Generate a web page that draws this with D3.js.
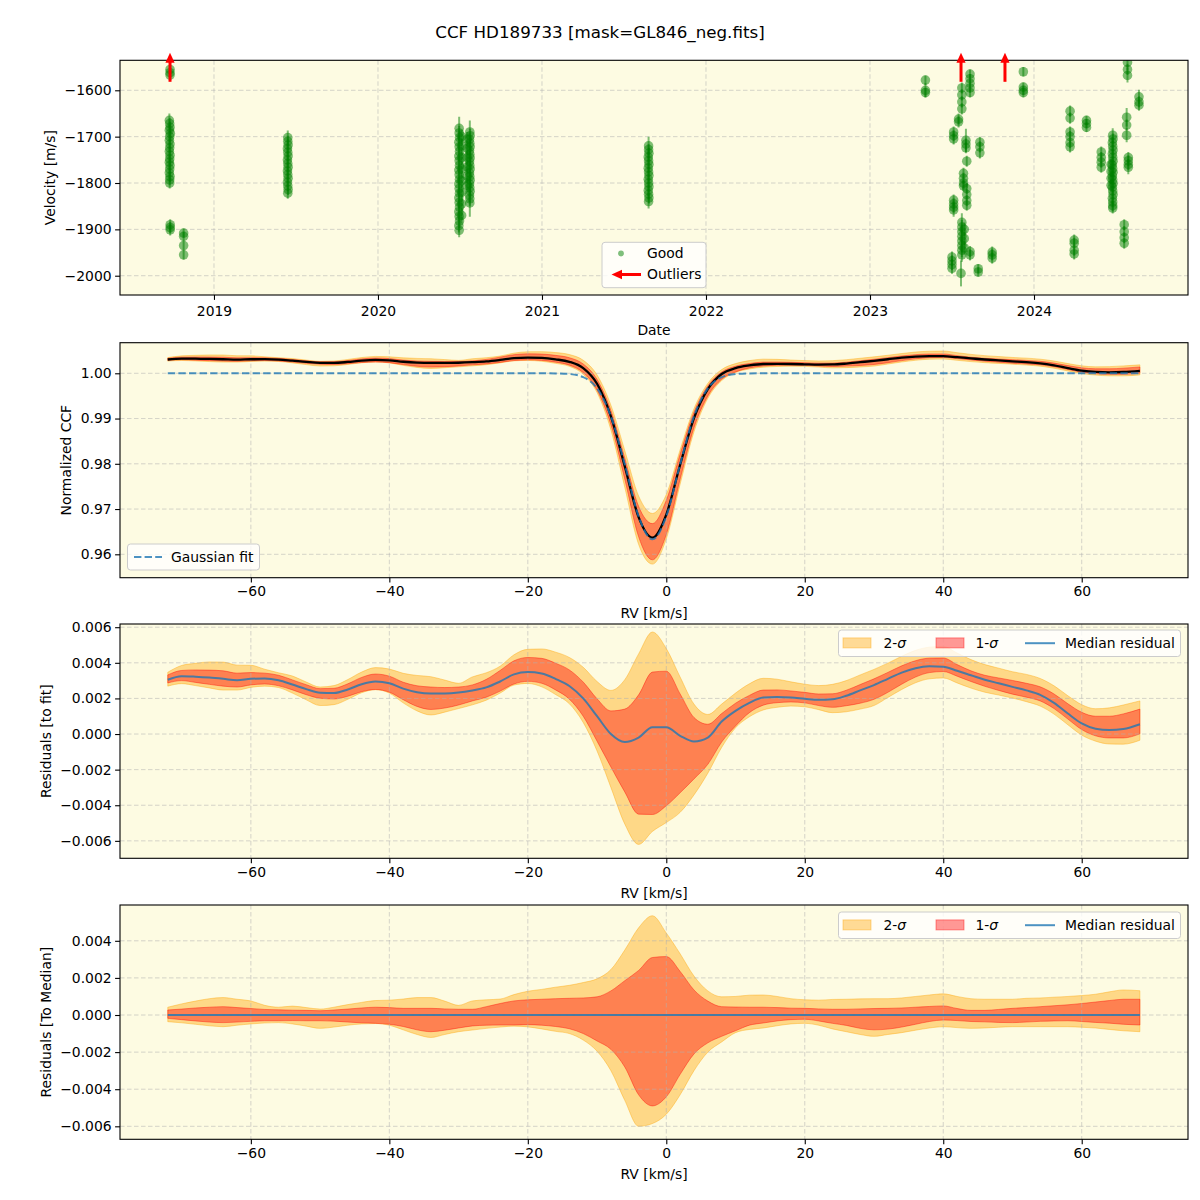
<!DOCTYPE html>
<html><head><meta charset="utf-8">
<script src="https://cdn.jsdelivr.net/npm/d3@7"></script>
<style>body{margin:0;background:#fff}</style>
</head><body>
<svg id="chart" width="1200" height="1200"></svg>
<script>
// ---------------- DATA ----------------
const chartTitle = "CCF HD189733 [mask=GL846_neg.fits]";

// RV grid [km/s]
const rv = [-72,-70,-68,-66,-64,-62,-60,-58,-56,-54,
  -52,-50,-48,-46,-44,-42,-40,-38,-36,-34,
  -32,-30,-28,-26,-24,-22,-20,-18,-16,-14,
  -12,-10,-8,-6,-4,-2,0,2,4,6,
  8,10,12,14,16,18,20,22,24,26,
  28,30,32,34,36,38,40,42,44,46,
  48,50,52,54,56,58,60,62,64,66,
  68.4];

// Gaussian fit to the CCF
const gaussFit = [1,1,1,1,1,1,1,1,1,1,
  1,1,1,1,1,1,1,1,1,1,
  1,1,1,1,1,1,1,1,0.99998,0.99984,
  0.99914,0.99668,0.9905,0.9799,0.9684,0.9633,0.9684,0.9799,0.9905,0.99668,
  0.99914,0.99984,0.99998,1,1,1,1,1,1,1,
  1,1,1,1,1,1,1,1,1,1,
  1,1,1,1,1,1,1,1,1,1,
  1];

// Median residual to the fit (x1e-3)
const medianResid = [3.05,3.25,3.22,3.17,3.10,3.02,3.10,3.12,3.02,2.78,
  2.52,2.32,2.30,2.50,2.80,2.95,2.85,2.55,2.35,2.28,
  2.28,2.33,2.45,2.62,2.95,3.35,3.48,3.40,3.10,2.70,
  2.00,1.00,0.00,-0.45,-0.20,0.38,0.38,-0.10,-0.42,-0.20,
  0.70,1.30,1.75,2.05,2.08,2.05,1.98,1.92,1.95,2.15,
  2.45,2.75,3.10,3.45,3.70,3.80,3.78,3.55,3.30,3.05,
  2.85,2.65,2.45,2.20,1.75,1.15,0.60,0.30,0.22,0.28,
  0.55];

// Spread of residuals around the median (x1e-3)
const sig2Hi = [0.42,0.60,0.75,0.88,0.94,0.85,0.76,0.52,0.42,0.48,
  0.40,0.32,0.42,0.56,0.68,0.78,0.80,0.86,0.94,0.94,
  0.75,0.52,0.76,0.82,0.86,1.10,1.28,1.38,1.50,1.60,
  1.75,1.95,2.45,3.50,4.70,5.35,4.42,3.30,2.10,1.30,
  0.98,1.00,1.07,1.08,1.00,0.88,0.82,0.80,0.84,0.85,
  0.87,0.88,0.88,0.92,1.00,1.08,1.14,1.00,0.88,0.85,
  0.85,0.85,0.90,0.92,0.96,1.00,1.05,1.12,1.25,1.35,
  1.31];
const sig1Hi = [0.27,0.32,0.38,0.42,0.45,0.40,0.35,0.30,0.28,0.26,
  0.25,0.23,0.27,0.32,0.38,0.42,0.40,0.36,0.36,0.36,
  0.33,0.31,0.31,0.45,0.62,0.76,0.82,0.85,0.88,0.90,
  0.92,0.98,1.30,1.85,2.40,3.10,3.15,2.35,1.35,0.75,
  0.45,0.43,0.42,0.42,0.40,0.37,0.36,0.33,0.31,0.31,
  0.33,0.35,0.36,0.38,0.42,0.46,0.49,0.35,0.25,0.25,
  0.30,0.36,0.40,0.45,0.50,0.55,0.62,0.70,0.78,0.85,
  0.85];
const sig1Lo = [-0.18,-0.25,-0.32,-0.38,-0.41,-0.38,-0.34,-0.31,-0.31,-0.30,
  -0.31,-0.31,-0.33,-0.38,-0.42,-0.45,-0.50,-0.62,-0.80,-0.90,
  -0.82,-0.70,-0.59,-0.55,-0.54,-0.54,-0.52,-0.55,-0.62,-0.74,
  -1.00,-1.40,-1.85,-2.80,-4.30,-4.90,-4.41,-3.20,-2.10,-1.50,
  -1.15,-0.85,-0.55,-0.43,-0.32,-0.25,-0.23,-0.32,-0.45,-0.56,
  -0.72,-0.80,-0.76,-0.65,-0.50,-0.35,-0.27,-0.30,-0.35,-0.37,
  -0.40,-0.41,-0.38,-0.34,-0.32,-0.31,-0.35,-0.40,-0.44,-0.50,
  -0.54];
const sig2Lo = [-0.36,-0.42,-0.50,-0.58,-0.63,-0.55,-0.48,-0.43,-0.41,-0.48,
  -0.60,-0.72,-0.65,-0.55,-0.48,-0.46,-0.55,-0.80,-1.05,-1.21,
  -1.05,-0.90,-0.81,-0.72,-0.65,-0.60,-0.64,-0.75,-0.88,-1.00,
  -1.35,-1.95,-3.00,-4.60,-6.00,-5.85,-5.35,-4.30,-3.00,-2.00,
  -1.45,-0.95,-0.78,-0.70,-0.58,-0.48,-0.45,-0.55,-0.75,-0.90,
  -1.05,-1.15,-1.05,-0.95,-0.82,-0.70,-0.63,-0.68,-0.72,-0.70,
  -0.66,-0.63,-0.63,-0.63,-0.63,-0.63,-0.66,-0.70,-0.78,-0.85,
  -0.90];

// Velocity time series: [decimal year, velocity m/s, error m/s]
const goodObs = [
  [2018.732,-1555,10],[2018.732,-1562,10],[2018.732,-1567,10],
  [2018.728,-1665,15],[2018.730,-1672,12],[2018.732,-1680,12],[2018.728,-1686,12],[2018.734,-1693,12],
  [2018.730,-1700,12],[2018.728,-1708,12],[2018.732,-1716,12],[2018.730,-1724,12],[2018.728,-1732,12],
  [2018.732,-1740,12],[2018.730,-1748,12],[2018.728,-1755,12],[2018.732,-1762,12],[2018.730,-1770,12],
  [2018.728,-1778,12],[2018.732,-1786,12],[2018.730,-1793,12],[2018.730,-1800,12],
  [2018.733,-1890,12],[2018.733,-1896,12],[2018.733,-1901,12],
  [2018.815,-1908,10],[2018.815,-1915,10],[2018.815,-1935,10],[2018.815,-1955,10],
  [2019.450,-1702,15],[2019.450,-1710,12],[2019.452,-1718,12],[2019.448,-1726,12],[2019.450,-1734,12],
  [2019.452,-1742,12],[2019.448,-1750,12],[2019.450,-1758,12],[2019.452,-1766,12],[2019.448,-1774,12],
  [2019.450,-1782,12],[2019.452,-1790,12],[2019.448,-1798,12],[2019.450,-1806,12],[2019.452,-1814,12],
  [2019.450,-1822,12],
  [2020.495,-1682,25],[2020.495,-1692,15],[2020.497,-1702,15],[2020.493,-1712,15],[2020.495,-1722,15],
  [2020.497,-1732,15],[2020.493,-1742,15],[2020.495,-1752,15],[2020.497,-1762,15],[2020.493,-1772,15],
  [2020.495,-1782,15],[2020.497,-1792,15],[2020.493,-1802,15],[2020.495,-1812,15],[2020.497,-1822,15],
  [2020.493,-1832,15],[2020.495,-1842,15],[2020.497,-1852,15],[2020.493,-1862,15],[2020.495,-1872,15],
  [2020.497,-1882,15],[2020.493,-1892,15],[2020.495,-1902,15],
  [2020.510,-1700,15],[2020.510,-1720,15],[2020.510,-1745,15],[2020.510,-1770,15],[2020.510,-1795,15],
  [2020.510,-1820,15],[2020.510,-1845,15],[2020.510,-1870,15],
  [2020.560,-1690,25],[2020.562,-1698,15],[2020.558,-1706,15],[2020.560,-1714,15],[2020.562,-1722,15],
  [2020.558,-1730,15],[2020.560,-1738,15],[2020.562,-1746,15],[2020.558,-1754,15],[2020.560,-1762,15],
  [2020.562,-1770,15],[2020.558,-1778,15],[2020.560,-1786,15],[2020.562,-1794,15],[2020.558,-1802,15],
  [2020.560,-1810,15],[2020.562,-1818,15],[2020.558,-1826,15],[2020.560,-1834,15],[2020.560,-1843,30],
  [2020.545,-1705,15],[2020.545,-1725,15],[2020.545,-1745,15],[2020.545,-1765,15],[2020.545,-1785,15],
  [2020.545,-1805,15],
  [2021.650,-1720,20],[2021.650,-1728,12],[2021.652,-1736,12],[2021.648,-1744,12],[2021.650,-1752,12],
  [2021.652,-1760,12],[2021.648,-1768,12],[2021.650,-1776,12],[2021.652,-1784,12],[2021.648,-1792,12],
  [2021.650,-1800,12],[2021.652,-1808,12],[2021.648,-1816,12],[2021.650,-1824,12],[2021.652,-1832,12],
  [2021.650,-1840,15],
  [2023.338,-1578,10],[2023.338,-1600,15],[2023.338,-1605,10],
  [2023.610,-1565,10],[2023.610,-1575,10],[2023.610,-1585,10],[2023.610,-1595,10],[2023.610,-1605,10],
  [2023.560,-1595,12],[2023.560,-1610,12],[2023.560,-1625,12],[2023.560,-1640,12],
  [2023.540,-1662,12],[2023.540,-1668,12],
  [2023.510,-1690,12],[2023.510,-1698,12],[2023.510,-1705,12],
  [2023.585,-1708,25],[2023.585,-1716,12],[2023.585,-1724,12],
  [2023.670,-1712,12],[2023.670,-1722,12],[2023.670,-1735,12],
  [2023.590,-1753,12],
  [2023.570,-1779,12],[2023.570,-1790,12],[2023.570,-1800,12],[2023.570,-1806,12],
  [2023.590,-1812,12],[2023.590,-1825,12],[2023.590,-1838,12],[2023.590,-1848,12],
  [2023.510,-1837,12],[2023.510,-1845,12],[2023.510,-1852,12],[2023.510,-1858,15],
  [2023.560,-1885,20],[2023.560,-1895,15],[2023.560,-1905,15],[2023.560,-1915,15],[2023.560,-1925,15],
  [2023.560,-1935,15],[2023.560,-1945,15],[2023.560,-1955,15],
  [2023.575,-1900,15],[2023.575,-1920,15],[2023.575,-1940,15],
  [2023.610,-1948,12],[2023.610,-1955,12],
  [2023.500,-1960,12],[2023.500,-1968,12],[2023.500,-1976,12],[2023.500,-1984,12],
  [2023.555,-1995,28],
  [2023.660,-1985,10],[2023.660,-1992,10],
  [2023.745,-1949,12],[2023.745,-1955,12],[2023.745,-1962,12],
  [2023.935,-1560,10],[2023.935,-1593,10],[2023.935,-1600,10],[2023.935,-1605,10],
  [2024.220,-1645,12],[2024.220,-1660,12],[2024.220,-1690,12],[2024.220,-1700,12],[2024.220,-1713,12],
  [2024.220,-1722,12],
  [2024.320,-1665,10],[2024.320,-1672,10],[2024.320,-1680,10],
  [2024.245,-1923,12],[2024.245,-1930,12],[2024.245,-1945,12],[2024.245,-1953,12],
  [2024.410,-1733,12],[2024.410,-1745,12],[2024.410,-1755,12],[2024.410,-1766,12],
  [2024.480,-1697,15],[2024.482,-1705,12],[2024.478,-1713,12],[2024.480,-1721,12],[2024.482,-1729,12],
  [2024.478,-1737,12],[2024.480,-1745,12],[2024.482,-1753,12],[2024.478,-1761,12],[2024.480,-1769,12],
  [2024.482,-1777,12],[2024.478,-1785,12],[2024.480,-1793,12],[2024.482,-1801,12],[2024.478,-1809,12],
  [2024.480,-1817,12],[2024.482,-1825,12],[2024.478,-1833,12],[2024.480,-1841,12],[2024.480,-1849,12],
  [2024.480,-1854,12],
  [2024.470,-1760,12],[2024.470,-1775,12],[2024.470,-1790,12],[2024.470,-1805,12],
  [2024.550,-1890,12],[2024.550,-1905,12],[2024.550,-1918,12],[2024.550,-1930,12],
  [2024.570,-1540,15],[2024.570,-1555,12],[2024.570,-1568,15],
  [2024.565,-1658,20],[2024.565,-1675,12],[2024.565,-1697,15],
  [2024.575,-1745,12],[2024.575,-1752,12],[2024.575,-1760,12],[2024.575,-1766,15],
  [2024.640,-1614,15],[2024.640,-1625,12],[2024.640,-1632,12]
];
const outlierTimes = [2018.732, 2023.555, 2023.823];

const yearTicks = [2019,2020,2021,2022,2023,2024];
const velTicks = [-2000,-1900,-1800,-1700,-1600];
const rvTicks = [-60,-40,-20,0,20,40,60];
const ccfTicks = [0.96,0.97,0.98,0.99,1.00];
const resFitTicks = [-0.006,-0.004,-0.002,0,0.002,0.004,0.006];
const resMedTicks = [-0.006,-0.004,-0.002,0,0.002,0.004];

// ---------------- DERIVED TABLES ----------------
const K = 1e-3;
const p2 = rv.map((r,i)=>({r, fit:gaussFit[i], med:gaussFit[i]+medianResid[i]*K,
  h2:gaussFit[i]+(medianResid[i]+sig2Hi[i])*K, l2:gaussFit[i]+(medianResid[i]+sig2Lo[i])*K,
  h1:gaussFit[i]+(medianResid[i]+sig1Hi[i])*K, l1:gaussFit[i]+(medianResid[i]+sig1Lo[i])*K}));
const p3 = rv.map((r,i)=>({r, med:medianResid[i]*K,
  h2:(medianResid[i]+sig2Hi[i])*K, l2:(medianResid[i]+sig2Lo[i])*K,
  h1:(medianResid[i]+sig1Hi[i])*K, l1:(medianResid[i]+sig1Lo[i])*K}));
const p4 = rv.map((r,i)=>({r, med:0, h2:sig2Hi[i]*K, l2:sig2Lo[i]*K, h1:sig1Hi[i]*K, l1:sig1Lo[i]*K}));

// ---------------- DRAW ----------------
const svg = d3.select('#chart');
const FONT = '"DejaVu Sans", Verdana, sans-serif';
const BG = '#fdfbe2';
const L = 120, R = 1188;
const FS = 13.9;
const P = [ {top:60.3,bottom:295}, {top:342.7,bottom:577.7}, {top:624,bottom:858.3}, {top:905,bottom:1139.3} ];

svg.append('rect').attr('width',1200).attr('height',1200).attr('fill','#fff');

svg.append('text').attr('x',600).attr('y',38).attr('text-anchor','middle')
  .attr('font-family',FONT).attr('font-size',16.7).text(chartTitle);

function panel(i){
  const {top,bottom} = P[i];
  const g = svg.append('g');
  g.append('rect').attr('x',L).attr('y',top).attr('width',R-L).attr('height',bottom-top).attr('fill',BG);
  svg.append('clipPath').attr('id','clip'+i).append('rect')
    .attr('x',L).attr('y',top).attr('width',R-L).attr('height',bottom-top);
  return g;
}
function grid(g, i, x, y, xt, yt){
  const {top,bottom} = P[i];
  const gg = g.append('g').attr('stroke','#b0b0b0').attr('stroke-opacity',0.6)
    .attr('stroke-width',0.9).attr('stroke-dasharray','4.5,2.5');
  xt.forEach(v=>gg.append('line').attr('x1',x(v)).attr('x2',x(v)).attr('y1',top).attr('y2',bottom));
  yt.forEach(v=>gg.append('line').attr('x1',L).attr('x2',R).attr('y1',y(v)).attr('y2',y(v)));
}
function axes(g, i, x, y, xt, yt, xf, yf, xlabel, ylabel, ylabX, xpad){
  const {top,bottom} = P[i];
  const ax = g.append('g').attr('transform',`translate(0,${bottom})`)
    .call(d3.axisBottom(x).tickValues(xt).tickFormat(xf).tickSize(4.9).tickPadding(xpad||3.5));
  const ay = g.append('g').attr('transform',`translate(${L},0)`)
    .call(d3.axisLeft(y).tickValues(yt).tickFormat(yf).tickSize(4.9).tickPadding(3.5));
  [ax,ay].forEach(a=>{
    a.attr('font-family',FONT).attr('font-size',FS);
    a.select('.domain').remove();
    a.selectAll('line').attr('stroke','#000').attr('stroke-width',1.1);
    a.selectAll('text').attr('fill','#000');
  });
  g.append('rect').attr('x',L).attr('y',top).attr('width',R-L).attr('height',bottom-top)
    .attr('fill','none').attr('stroke','#000').attr('stroke-width',1.1);
  g.append('text').attr('x',(L+R)/2).attr('y',bottom+35).attr('dy','0.35em').attr('text-anchor','middle')
    .attr('font-family',FONT).attr('font-size',FS).text(xlabel);
  g.append('text').attr('transform',`translate(${ylabX},${(top+bottom)/2}) rotate(-90)`)
    .attr('dy','0.35em').attr('text-anchor','middle')
    .attr('font-family',FONT).attr('font-size',FS).text(ylabel);
}

// ----- Panel 1: velocity time series -----
{
  const i=0, {top,bottom}=P[i];
  const x = d3.scaleLinear().domain([2018.427, 2024.939]).range([L,R]);
  const y = d3.scaleLinear().domain([-2041.6, -1535.3]).range([bottom, top]);
  const g = panel(i);
  grid(g,i,x,y,yearTicks,velTicks);
  const d = g.append('g').attr('clip-path','url(#clip0)');
  d.selectAll('line.eb').data(goodObs).join('line').attr('class','eb')
    .attr('x1',o=>x(o[0])).attr('x2',o=>x(o[0]))
    .attr('y1',o=>y(o[1]-o[2])).attr('y2',o=>y(o[1]+o[2]))
    .attr('stroke','#008000').attr('stroke-opacity',0.5).attr('stroke-width',2);
  d.selectAll('circle').data(goodObs).join('circle')
    .attr('cx',o=>x(o[0])).attr('cy',o=>y(o[1])).attr('r',4.8)
    .attr('fill','#008000').attr('fill-opacity',0.5);
  axes(g,i,x,y,yearTicks,velTicks,d3.format('d'),d3.format('d'),'Date','Velocity [m/s]',50,6);
  // outlier arrows (beyond upper limit)
  const ar = svg.append('g');
  outlierTimes.forEach(t=>{
    const cx = x(t);
    ar.append('line').attr('x1',cx).attr('x2',cx).attr('y1',top+21.5).attr('y2',top+1)
      .attr('stroke','red').attr('stroke-width',3);
    ar.append('path').attr('d',`M${cx},${top-7.6} L${cx-4.6},${top+2.5} L${cx+4.6},${top+2.5} Z`).attr('fill','red');
  });
  // legend
  const lg = svg.append('g');
  lg.append('rect').attr('x',602).attr('y',242.3).attr('width',104).attr('height',45.4).attr('rx',3)
    .attr('fill','#fff').attr('fill-opacity',0.8).attr('stroke','#cccccc').attr('stroke-width',1);
  lg.append('circle').attr('cx',621).attr('cy',253.5).attr('r',2.9).attr('fill','#008000').attr('fill-opacity',0.5);
  lg.append('text').attr('x',647).attr('y',253.5).attr('dy','0.35em').attr('font-family',FONT).attr('font-size',FS).text('Good');
  lg.append('line').attr('x1',641).attr('x2',620).attr('y1',274.5).attr('y2',274.5).attr('stroke','red').attr('stroke-width',3);
  lg.append('path').attr('d','M611.5,274.5 L622,269.8 L622,279.2 Z').attr('fill','red');
  lg.append('text').attr('x',647).attr('y',274.5).attr('dy','0.35em').attr('font-family',FONT).attr('font-size',FS).text('Outliers');
}

const xrv = d3.scaleLinear().domain([-78.9, 75.35]).range([L,R]);

function bands(g, i, y, data){
  const d = g.append('g').attr('clip-path',`url(#clip${i})`);
  const a2 = d3.area().x(o=>xrv(o.r)).y0(o=>y(o.l2)).y1(o=>y(o.h2)).curve(d3.curveMonotoneX);
  const a1 = d3.area().x(o=>xrv(o.r)).y0(o=>y(o.l1)).y1(o=>y(o.h1)).curve(d3.curveMonotoneX);
  d.append('path').attr('d',a2(data)).attr('fill','orange').attr('fill-opacity',0.4)
    .attr('stroke','orange').attr('stroke-opacity',0.4).attr('stroke-width',1);
  d.append('path').attr('d',a1(data)).attr('fill','red').attr('fill-opacity',0.4)
    .attr('stroke','red').attr('stroke-opacity',0.4).attr('stroke-width',1);
  return d;
}
function sigmaLegend(top){
  const lg = svg.append('g');
  lg.append('rect').attr('x',838.5).attr('y',top).attr('width',342).attr('height',26.5).attr('rx',3)
    .attr('fill','#fff').attr('fill-opacity',0.8).attr('stroke','#cccccc').attr('stroke-width',1);
  const cy = top+13.2;
  lg.append('rect').attr('x',843).attr('y',cy-5.3).attr('width',28).attr('height',10)
    .attr('fill','orange').attr('fill-opacity',0.4).attr('stroke','orange').attr('stroke-opacity',0.4);
  const t1 = lg.append('text').attr('x',883.5).attr('y',cy).attr('dy','0.35em').attr('font-family',FONT).attr('font-size',FS);
  t1.append('tspan').text('2-'); t1.append('tspan').attr('font-style','italic').text('σ');
  lg.append('rect').attr('x',936).attr('y',cy-5.3).attr('width',28).attr('height',10)
    .attr('fill','red').attr('fill-opacity',0.4).attr('stroke','red').attr('stroke-opacity',0.4);
  const t2 = lg.append('text').attr('x',975.5).attr('y',cy).attr('dy','0.35em').attr('font-family',FONT).attr('font-size',FS);
  t2.append('tspan').text('1-'); t2.append('tspan').attr('font-style','italic').text('σ');
  lg.append('line').attr('x1',1025).attr('x2',1055).attr('y1',cy).attr('y2',cy)
    .attr('stroke','#1f77b4').attr('stroke-opacity',0.8).attr('stroke-width',2);
  lg.append('text').attr('x',1065).attr('y',cy).attr('dy','0.35em').attr('font-family',FONT).attr('font-size',FS).text('Median residual');
}

// ----- Panel 2: normalized CCF -----
{
  const i=1, {top,bottom}=P[i];
  const y = d3.scaleLinear().domain([0.95483, 1.00676]).range([bottom, top]);
  const g = panel(i);
  bands(g,i,y,p2);
  grid(g,i,xrv,y,rvTicks,ccfTicks);
  const ln = d3.line().x(o=>xrv(o.r)).curve(d3.curveMonotoneX);
  const d2 = g.append('g').attr('clip-path',`url(#clip${i})`);
  d2.append('path').attr('d',ln.y(o=>y(o.med))(p2)).attr('fill','none').attr('stroke','#000').attr('stroke-width',2.3);
  d2.append('path').attr('d',ln.y(o=>y(o.fit))(p2)).attr('fill','none').attr('stroke','#1f77b4')
    .attr('stroke-opacity',0.8).attr('stroke-width',2).attr('stroke-dasharray','7.4,3.2');
  axes(g,i,xrv,y,rvTicks,ccfTicks,d3.format('d'),d3.format('.2f'),'RV [km/s]','Normalized CCF',66);
  const lg = svg.append('g');
  lg.append('rect').attr('x',127.5).attr('y',544).attr('width',132).attr('height',26).attr('rx',3)
    .attr('fill','#fff').attr('fill-opacity',0.8).attr('stroke','#cccccc').attr('stroke-width',1);
  lg.append('line').attr('x1',134).attr('x2',162).attr('y1',557).attr('y2',557).attr('stroke','#1f77b4')
    .attr('stroke-opacity',0.8).attr('stroke-width',2).attr('stroke-dasharray','7.4,3.2');
  lg.append('text').attr('x',171).attr('y',557).attr('dy','0.35em').attr('font-family',FONT).attr('font-size',FS).text('Gaussian fit');
}

// ----- Panel 3: residuals to fit -----
{
  const i=2, {top,bottom}=P[i];
  const y = d3.scaleLinear().domain([-0.00698, 0.00618]).range([bottom, top]);
  const g = panel(i);
  bands(g,i,y,p3);
  grid(g,i,xrv,y,rvTicks,resFitTicks);
  const d2 = g.append('g').attr('clip-path',`url(#clip${i})`);
  d2.append('path').attr('d',d3.line().x(o=>xrv(o.r)).y(o=>y(o.med)).curve(d3.curveMonotoneX)(p3))
    .attr('fill','none').attr('stroke','#1f77b4').attr('stroke-opacity',0.8).attr('stroke-width',2);
  axes(g,i,xrv,y,rvTicks,resFitTicks,d3.format('d'),d3.format('.3f'),'RV [km/s]','Residuals [to fit]',46);
  sigmaLegend(630);
}

// ----- Panel 4: residuals to median -----
{
  const i=3, {top,bottom}=P[i];
  const y = d3.scaleLinear().domain([-0.0067, 0.00593]).range([bottom, top]);
  const g = panel(i);
  bands(g,i,y,p4);
  grid(g,i,xrv,y,rvTicks,resMedTicks);
  const d2 = g.append('g').attr('clip-path',`url(#clip${i})`);
  d2.append('path').attr('d',d3.line().x(o=>xrv(o.r)).y(o=>y(o.med)).curve(d3.curveMonotoneX)(p4))
    .attr('fill','none').attr('stroke','#1f77b4').attr('stroke-opacity',0.8).attr('stroke-width',2);
  axes(g,i,xrv,y,rvTicks,resMedTicks,d3.format('d'),d3.format('.3f'),'RV [km/s]','Residuals [To Median]',46);
  sigmaLegend(912);
}
</script>
</body></html>
